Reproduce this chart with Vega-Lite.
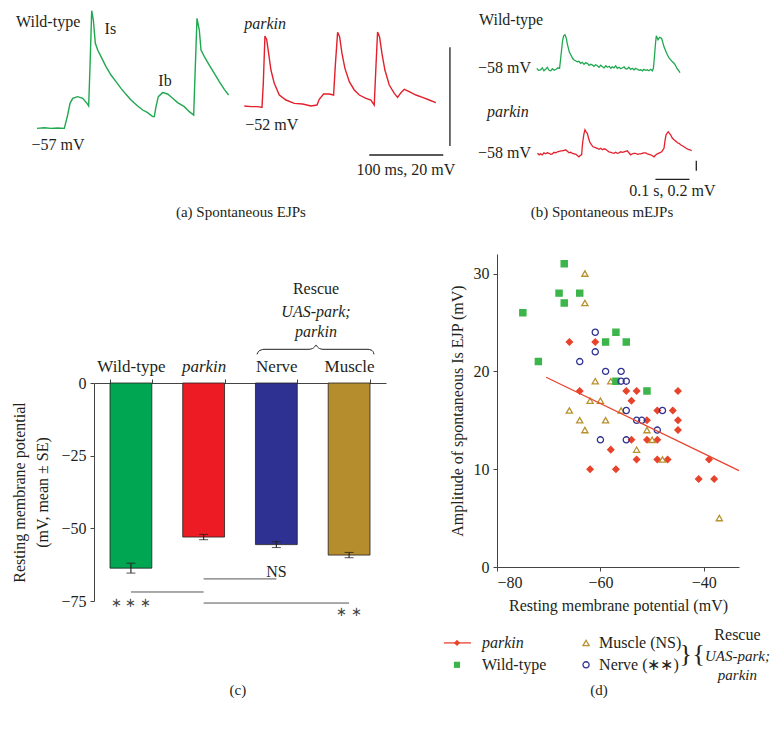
{
  "$schema": "https://vega.github.io/schema/vega-lite/v6.json",
  "background": "white",
  "padding": {"left": 11, "top": 0, "right": 0, "bottom": 0},
  "bounds": "full",
  "spacing": -21,
  "resolve": {"scale": {"color": "independent", "shape": "independent", "fill": "independent", "stroke": "independent"}},
  "config": {
    "font": "Liberation Serif",
    "view": {"stroke": null},
    "text": {"font": "Liberation Serif", "fontSize": 16, "fill": "#231f20"},
    "axis": {"labelFont": "Liberation Serif", "titleFont": "Liberation Serif", "labelColor": "#231f20", "titleColor": "#231f20", "labelFontSize": 16, "titleFontSize": 16, "titleFontWeight": "normal", "domainColor": "#444444", "tickColor": "#444444", "grid": false}
  },
  "datasets": {
    "ejp": [
      {"genotype": "Wild-type", "t": 0, "mV": -57.0},
      {"genotype": "Wild-type", "t": 9.9, "mV": -56.87},
      {"genotype": "Wild-type", "t": 18.9, "mV": -57.0},
      {"genotype": "Wild-type", "t": 27.9, "mV": -56.93},
      {"genotype": "Wild-type", "t": 36.9, "mV": -57.0},
      {"genotype": "Wild-type", "t": 41.4, "mV": -54.31},
      {"genotype": "Wild-type", "t": 44.6, "mV": -51.95},
      {"genotype": "Wild-type", "t": 48.2, "mV": -50.94},
      {"genotype": "Wild-type", "t": 54.9, "mV": -50.6},
      {"genotype": "Wild-type", "t": 61.7, "mV": -50.94},
      {"genotype": "Wild-type", "t": 67.6, "mV": -51.95},
      {"genotype": "Wild-type", "t": 69.8, "mV": -52.49},
      {"genotype": "Wild-type", "t": 71.6, "mV": -44.54},
      {"genotype": "Wild-type", "t": 73.9, "mV": -33.23},
      {"genotype": "Wild-type", "t": 76.1, "mV": -35.11},
      {"genotype": "Wild-type", "t": 78.8, "mV": -39.83},
      {"genotype": "Wild-type", "t": 82.0, "mV": -41.18},
      {"genotype": "Wild-type", "t": 86.5, "mV": -42.52},
      {"genotype": "Wild-type", "t": 93.2, "mV": -44.54},
      {"genotype": "Wild-type", "t": 100.0, "mV": -46.23},
      {"genotype": "Wild-type", "t": 106.7, "mV": -47.57},
      {"genotype": "Wild-type", "t": 113.5, "mV": -48.92},
      {"genotype": "Wild-type", "t": 120.2, "mV": -50.13},
      {"genotype": "Wild-type", "t": 127.0, "mV": -51.28},
      {"genotype": "Wild-type", "t": 136.0, "mV": -52.49},
      {"genotype": "Wild-type", "t": 142.8, "mV": -53.3},
      {"genotype": "Wild-type", "t": 149.5, "mV": -53.84},
      {"genotype": "Wild-type", "t": 156.3, "mV": -54.64},
      {"genotype": "Wild-type", "t": 158.5, "mV": -54.64},
      {"genotype": "Wild-type", "t": 160.8, "mV": -52.62},
      {"genotype": "Wild-type", "t": 163.9, "mV": -50.6},
      {"genotype": "Wild-type", "t": 169.8, "mV": -49.79},
      {"genotype": "Wild-type", "t": 176.5, "mV": -50.06},
      {"genotype": "Wild-type", "t": 183.3, "mV": -50.94},
      {"genotype": "Wild-type", "t": 190.0, "mV": -51.81},
      {"genotype": "Wild-type", "t": 199.0, "mV": -52.62},
      {"genotype": "Wild-type", "t": 205.8, "mV": -53.63},
      {"genotype": "Wild-type", "t": 211.7, "mV": -54.31},
      {"genotype": "Wild-type", "t": 213.9, "mV": -44.54},
      {"genotype": "Wild-type", "t": 216.2, "mV": -34.78},
      {"genotype": "Wild-type", "t": 219.3, "mV": -37.13},
      {"genotype": "Wild-type", "t": 221.6, "mV": -41.18},
      {"genotype": "Wild-type", "t": 226.1, "mV": -42.52},
      {"genotype": "Wild-type", "t": 232.8, "mV": -44.21},
      {"genotype": "Wild-type", "t": 239.6, "mV": -45.89},
      {"genotype": "Wild-type", "t": 246.3, "mV": -47.57},
      {"genotype": "Wild-type", "t": 253.1, "mV": -49.12},
      {"genotype": "Wild-type", "t": 258.9, "mV": -50.27},
      {"genotype": "parkin", "t": 280.1, "mV": -52.49},
      {"genotype": "parkin", "t": 289.1, "mV": -52.62},
      {"genotype": "parkin", "t": 298.1, "mV": -52.62},
      {"genotype": "parkin", "t": 304.0, "mV": -52.76},
      {"genotype": "parkin", "t": 305.8, "mV": -47.91},
      {"genotype": "parkin", "t": 308.0, "mV": -38.35},
      {"genotype": "parkin", "t": 310.3, "mV": -39.03},
      {"genotype": "parkin", "t": 313.0, "mV": -41.86},
      {"genotype": "parkin", "t": 316.1, "mV": -45.22},
      {"genotype": "parkin", "t": 320.6, "mV": -47.91},
      {"genotype": "parkin", "t": 327.4, "mV": -50.27},
      {"genotype": "parkin", "t": 336.4, "mV": -51.28},
      {"genotype": "parkin", "t": 347.7, "mV": -51.95},
      {"genotype": "parkin", "t": 358.9, "mV": -52.09},
      {"genotype": "parkin", "t": 370.2, "mV": -52.49},
      {"genotype": "parkin", "t": 378.3, "mV": -52.29},
      {"genotype": "parkin", "t": 381.4, "mV": -51.14},
      {"genotype": "parkin", "t": 387.3, "mV": -50.06},
      {"genotype": "parkin", "t": 394.9, "mV": -50.06},
      {"genotype": "parkin", "t": 400.8, "mV": -50.27},
      {"genotype": "parkin", "t": 403.0, "mV": -44.54},
      {"genotype": "parkin", "t": 406.2, "mV": -37.61},
      {"genotype": "parkin", "t": 408.9, "mV": -38.49},
      {"genotype": "parkin", "t": 412.1, "mV": -41.86},
      {"genotype": "parkin", "t": 416.1, "mV": -44.88},
      {"genotype": "parkin", "t": 422.0, "mV": -47.57},
      {"genotype": "parkin", "t": 428.7, "mV": -49.25},
      {"genotype": "parkin", "t": 435.5, "mV": -50.27},
      {"genotype": "parkin", "t": 444.5, "mV": -50.94},
      {"genotype": "parkin", "t": 451.2, "mV": -51.28},
      {"genotype": "parkin", "t": 455.7, "mV": -52.29},
      {"genotype": "parkin", "t": 458.0, "mV": -44.54},
      {"genotype": "parkin", "t": 460.2, "mV": -37.54},
      {"genotype": "parkin", "t": 462.9, "mV": -38.55},
      {"genotype": "parkin", "t": 466.1, "mV": -41.86},
      {"genotype": "parkin", "t": 470.1, "mV": -45.22},
      {"genotype": "parkin", "t": 476.0, "mV": -48.25},
      {"genotype": "parkin", "t": 482.8, "mV": -49.93},
      {"genotype": "parkin", "t": 487.3, "mV": -50.74},
      {"genotype": "parkin", "t": 491.8, "mV": -49.79},
      {"genotype": "parkin", "t": 496.3, "mV": -49.12},
      {"genotype": "parkin", "t": 503.0, "mV": -49.59},
      {"genotype": "parkin", "t": 512.0, "mV": -50.27},
      {"genotype": "parkin", "t": 521.0, "mV": -50.74},
      {"genotype": "parkin", "t": 530.0, "mV": -51.28},
      {"genotype": "parkin", "t": 539.0, "mV": -51.81}
    ],
    "mejp_wt": [
      {"t": 0.117, "mV": -57.98}, {"t": 0.122, "mV": -58.02}, {"t": 0.128, "mV": -58.01}, {"t": 0.133, "mV": -57.97},
      {"t": 0.138, "mV": -58.03}, {"t": 0.143, "mV": -58.0}, {"t": 0.148, "mV": -57.96}, {"t": 0.153, "mV": -58.02},
      {"t": 0.158, "mV": -58.03}, {"t": 0.163, "mV": -57.99}, {"t": 0.168, "mV": -58.02}, {"t": 0.174, "mV": -58.0},
      {"t": 0.179, "mV": -57.97}, {"t": 0.184, "mV": -57.98}, {"t": 0.187, "mV": -57.8}, {"t": 0.19, "mV": -57.61},
      {"t": 0.193, "mV": -57.42}, {"t": 0.196, "mV": -57.33}, {"t": 0.2, "mV": -57.31}, {"t": 0.204, "mV": -57.38},
      {"t": 0.207, "mV": -57.5}, {"t": 0.209, "mV": -57.55}, {"t": 0.213, "mV": -57.66}, {"t": 0.217, "mV": -57.71},
      {"t": 0.222, "mV": -57.78}, {"t": 0.226, "mV": -57.81}, {"t": 0.231, "mV": -57.83}, {"t": 0.236, "mV": -57.85},
      {"t": 0.241, "mV": -57.84}, {"t": 0.246, "mV": -57.88}, {"t": 0.251, "mV": -57.86}, {"t": 0.256, "mV": -57.9},
      {"t": 0.261, "mV": -57.87}, {"t": 0.266, "mV": -57.88}, {"t": 0.271, "mV": -57.92}, {"t": 0.276, "mV": -57.9},
      {"t": 0.28, "mV": -57.91}, {"t": 0.285, "mV": -57.94}, {"t": 0.29, "mV": -57.91}, {"t": 0.295, "mV": -57.93},
      {"t": 0.3, "mV": -57.96}, {"t": 0.305, "mV": -57.92}, {"t": 0.31, "mV": -57.95}, {"t": 0.315, "mV": -57.97},
      {"t": 0.32, "mV": -57.93}, {"t": 0.325, "mV": -57.96}, {"t": 0.33, "mV": -57.94}, {"t": 0.335, "mV": -57.98},
      {"t": 0.339, "mV": -57.95}, {"t": 0.344, "mV": -57.97}, {"t": 0.349, "mV": -57.93}, {"t": 0.354, "mV": -57.98},
      {"t": 0.359, "mV": -57.96}, {"t": 0.364, "mV": -57.99}, {"t": 0.369, "mV": -57.97}, {"t": 0.374, "mV": -57.95},
      {"t": 0.378, "mV": -57.99}, {"t": 0.383, "mV": -57.99}, {"t": 0.388, "mV": -57.96}, {"t": 0.393, "mV": -58.0},
      {"t": 0.398, "mV": -57.98}, {"t": 0.403, "mV": -58.01}, {"t": 0.408, "mV": -57.98}, {"t": 0.413, "mV": -58.0},
      {"t": 0.418, "mV": -58.02}, {"t": 0.423, "mV": -58.01}, {"t": 0.428, "mV": -58.03}, {"t": 0.432, "mV": -58.0},
      {"t": 0.437, "mV": -58.02}, {"t": 0.442, "mV": -58.01}, {"t": 0.447, "mV": -58.03}, {"t": 0.452, "mV": -58.0},
      {"t": 0.457, "mV": -58.03}, {"t": 0.46, "mV": -57.98}, {"t": 0.4625, "mV": -57.8}, {"t": 0.4647, "mV": -57.61},
      {"t": 0.4667, "mV": -57.45}, {"t": 0.4686, "mV": -57.33}, {"t": 0.471, "mV": -57.37}, {"t": 0.4735, "mV": -57.41},
      {"t": 0.476, "mV": -57.38}, {"t": 0.4784, "mV": -57.36}, {"t": 0.481, "mV": -57.37}, {"t": 0.4843, "mV": -57.38},
      {"t": 0.488, "mV": -57.47}, {"t": 0.4912, "mV": -57.55}, {"t": 0.496, "mV": -57.63}, {"t": 0.501, "mV": -57.71},
      {"t": 0.506, "mV": -57.77}, {"t": 0.511, "mV": -57.81}, {"t": 0.516, "mV": -57.85}, {"t": 0.521, "mV": -57.88},
      {"t": 0.524, "mV": -57.91}, {"t": 0.527, "mV": -57.95}, {"t": 0.53, "mV": -57.99}, {"t": 0.533, "mV": -58.01},
      {"t": 0.536, "mV": -58.04}, {"t": 0.538, "mV": -58.07}
    ],
    "mejp_pk": [
      {"t": 0.119, "mV": -58.0}, {"t": 0.124, "mV": -58.03}, {"t": 0.128, "mV": -58.01}, {"t": 0.133, "mV": -58.03},
      {"t": 0.138, "mV": -57.99}, {"t": 0.143, "mV": -58.01}, {"t": 0.148, "mV": -57.99}, {"t": 0.153, "mV": -58.0},
      {"t": 0.158, "mV": -58.02}, {"t": 0.163, "mV": -58.01}, {"t": 0.168, "mV": -57.98}, {"t": 0.173, "mV": -57.99},
      {"t": 0.178, "mV": -57.97}, {"t": 0.183, "mV": -57.96}, {"t": 0.188, "mV": -57.95}, {"t": 0.192, "mV": -57.95},
      {"t": 0.197, "mV": -57.94}, {"t": 0.202, "mV": -57.93}, {"t": 0.207, "mV": -57.96}, {"t": 0.212, "mV": -57.99},
      {"t": 0.217, "mV": -57.98}, {"t": 0.222, "mV": -58.0}, {"t": 0.227, "mV": -58.01}, {"t": 0.232, "mV": -58.02},
      {"t": 0.237, "mV": -58.05}, {"t": 0.241, "mV": -58.07}, {"t": 0.245, "mV": -58.04}, {"t": 0.249, "mV": -58.03},
      {"t": 0.251, "mV": -57.85}, {"t": 0.253, "mV": -57.73}, {"t": 0.256, "mV": -57.6}, {"t": 0.2588, "mV": -57.53},
      {"t": 0.262, "mV": -57.57}, {"t": 0.2657, "mV": -57.6}, {"t": 0.269, "mV": -57.69}, {"t": 0.2725, "mV": -57.77},
      {"t": 0.277, "mV": -57.82}, {"t": 0.2824, "mV": -57.87}, {"t": 0.288, "mV": -57.88}, {"t": 0.2951, "mV": -57.9},
      {"t": 0.3, "mV": -57.92}, {"t": 0.305, "mV": -57.9}, {"t": 0.3098, "mV": -57.93}, {"t": 0.315, "mV": -57.91},
      {"t": 0.3196, "mV": -57.92}, {"t": 0.325, "mV": -57.95}, {"t": 0.3294, "mV": -57.97}, {"t": 0.335, "mV": -57.98},
      {"t": 0.339, "mV": -57.99}, {"t": 0.3441, "mV": -58.0}, {"t": 0.349, "mV": -57.98}, {"t": 0.354, "mV": -58.0},
      {"t": 0.3588, "mV": -57.99}, {"t": 0.364, "mV": -57.97}, {"t": 0.369, "mV": -57.98}, {"t": 0.3735, "mV": -57.97},
      {"t": 0.378, "mV": -57.96}, {"t": 0.3833, "mV": -57.95}, {"t": 0.388, "mV": -57.99}, {"t": 0.3931, "mV": -58.03},
      {"t": 0.398, "mV": -58.01}, {"t": 0.403, "mV": -58.0}, {"t": 0.4078, "mV": -58.0}, {"t": 0.413, "mV": -58.02},
      {"t": 0.418, "mV": -58.01}, {"t": 0.4225, "mV": -58.01}, {"t": 0.427, "mV": -58.0}, {"t": 0.432, "mV": -57.99},
      {"t": 0.4373, "mV": -57.99}, {"t": 0.442, "mV": -58.01}, {"t": 0.447, "mV": -58.02}, {"t": 0.452, "mV": -58.03},
      {"t": 0.457, "mV": -58.05}, {"t": 0.4618, "mV": -58.07}, {"t": 0.466, "mV": -58.04}, {"t": 0.4716, "mV": -58.01},
      {"t": 0.478, "mV": -57.99}, {"t": 0.4843, "mV": -57.97}, {"t": 0.488, "mV": -57.93}, {"t": 0.4912, "mV": -57.9},
      {"t": 0.494, "mV": -57.75}, {"t": 0.497, "mV": -57.64}, {"t": 0.4998, "mV": -57.6}, {"t": 0.5039, "mV": -57.57},
      {"t": 0.507, "mV": -57.6}, {"t": 0.5108, "mV": -57.63}, {"t": 0.515, "mV": -57.69}, {"t": 0.5206, "mV": -57.73},
      {"t": 0.526, "mV": -57.76}, {"t": 0.5306, "mV": -57.79}, {"t": 0.5353, "mV": -57.8}, {"t": 0.54, "mV": -57.83},
      {"t": 0.545, "mV": -57.85}, {"t": 0.55, "mV": -57.87}, {"t": 0.556, "mV": -57.9}, {"t": 0.5627, "mV": -57.92},
      {"t": 0.568, "mV": -57.93}, {"t": 0.5725, "mV": -57.95}
    ],
    "bars": [
      {"group": "Wild-type", "mean": -63.7, "lo": -65.4, "hi": -62.0},
      {"group": "parkin", "mean": -53.0, "lo": -53.9, "hi": -52.1},
      {"group": "Nerve", "mean": -55.6, "lo": -56.6, "hi": -54.6},
      {"group": "Muscle", "mean": -59.2, "lo": -60.1, "hi": -58.3}
    ],
    "sig": [
      {"from": "Wild-type", "to": "parkin", "v": -71.9},
      {"from": "parkin", "to": "Nerve", "v": -67.4},
      {"from": "parkin", "to": "Muscle", "v": -75.7}
    ],
    "brace": [
      {"u": 2.233, "v": 9.87}, {"u": 2.253, "v": 10.84}, {"u": 2.288, "v": 11.35}, {"u": 2.329, "v": 11.59},
      {"u": 2.945, "v": 11.59}, {"u": 2.993, "v": 11.87}, {"u": 3.021, "v": 12.38}, {"u": 3.041, "v": 13.07},
      {"u": 3.062, "v": 12.38}, {"u": 3.089, "v": 11.87}, {"u": 3.137, "v": 11.59}, {"u": 3.753, "v": 11.59},
      {"u": 3.795, "v": 11.35}, {"u": 3.822, "v": 10.84}, {"u": 3.836, "v": 9.87}
    ],
    "scatter": [
      {"group": "parkin", "rmp": -66, "amp": 23}, {"group": "parkin", "rmp": -61, "amp": 23},
      {"group": "parkin", "rmp": -64, "amp": 18}, {"group": "parkin", "rmp": -55, "amp": 18},
      {"group": "parkin", "rmp": -53, "amp": 18}, {"group": "parkin", "rmp": -45, "amp": 18},
      {"group": "parkin", "rmp": -54, "amp": 17}, {"group": "parkin", "rmp": -49, "amp": 16},
      {"group": "parkin", "rmp": -46, "amp": 16}, {"group": "parkin", "rmp": -51, "amp": 15},
      {"group": "parkin", "rmp": -45, "amp": 15}, {"group": "parkin", "rmp": -45, "amp": 14},
      {"group": "parkin", "rmp": -54, "amp": 13}, {"group": "parkin", "rmp": -51, "amp": 13},
      {"group": "parkin", "rmp": -49, "amp": 13}, {"group": "parkin", "rmp": -58, "amp": 12},
      {"group": "parkin", "rmp": -53, "amp": 11}, {"group": "parkin", "rmp": -49, "amp": 11},
      {"group": "parkin", "rmp": -47, "amp": 11}, {"group": "parkin", "rmp": -39, "amp": 11},
      {"group": "parkin", "rmp": -62, "amp": 10}, {"group": "parkin", "rmp": -57, "amp": 10},
      {"group": "parkin", "rmp": -41, "amp": 9}, {"group": "parkin", "rmp": -38, "amp": 9},
      {"group": "Muscle (NS)", "rmp": -63, "amp": 30}, {"group": "Muscle (NS)", "rmp": -63, "amp": 27},
      {"group": "Muscle (NS)", "rmp": -61, "amp": 19}, {"group": "Muscle (NS)", "rmp": -58, "amp": 19},
      {"group": "Muscle (NS)", "rmp": -62, "amp": 17}, {"group": "Muscle (NS)", "rmp": -60, "amp": 17},
      {"group": "Muscle (NS)", "rmp": -66, "amp": 16}, {"group": "Muscle (NS)", "rmp": -56, "amp": 16},
      {"group": "Muscle (NS)", "rmp": -64, "amp": 15}, {"group": "Muscle (NS)", "rmp": -59, "amp": 15},
      {"group": "Muscle (NS)", "rmp": -63, "amp": 14}, {"group": "Muscle (NS)", "rmp": -51, "amp": 14},
      {"group": "Muscle (NS)", "rmp": -50, "amp": 13}, {"group": "Muscle (NS)", "rmp": -53, "amp": 12},
      {"group": "Muscle (NS)", "rmp": -48, "amp": 11}, {"group": "Muscle (NS)", "rmp": -37, "amp": 5},
      {"group": "Wild-type", "rmp": -75, "amp": 26}, {"group": "Wild-type", "rmp": -72, "amp": 21},
      {"group": "Wild-type", "rmp": -67, "amp": 31}, {"group": "Wild-type", "rmp": -68, "amp": 28},
      {"group": "Wild-type", "rmp": -67, "amp": 27}, {"group": "Wild-type", "rmp": -64, "amp": 28},
      {"group": "Wild-type", "rmp": -59, "amp": 23}, {"group": "Wild-type", "rmp": -57, "amp": 24},
      {"group": "Wild-type", "rmp": -55, "amp": 23}, {"group": "Wild-type", "rmp": -57, "amp": 19},
      {"group": "Wild-type", "rmp": -51, "amp": 18},
      {"group": "Nerve (∗∗)", "rmp": -61, "amp": 24}, {"group": "Nerve (∗∗)", "rmp": -61, "amp": 22},
      {"group": "Nerve (∗∗)", "rmp": -64, "amp": 21}, {"group": "Nerve (∗∗)", "rmp": -59, "amp": 20},
      {"group": "Nerve (∗∗)", "rmp": -56, "amp": 20}, {"group": "Nerve (∗∗)", "rmp": -56, "amp": 19},
      {"group": "Nerve (∗∗)", "rmp": -55, "amp": 19}, {"group": "Nerve (∗∗)", "rmp": -55, "amp": 16},
      {"group": "Nerve (∗∗)", "rmp": -48, "amp": 16}, {"group": "Nerve (∗∗)", "rmp": -53, "amp": 15},
      {"group": "Nerve (∗∗)", "rmp": -52, "amp": 15}, {"group": "Nerve (∗∗)", "rmp": -49, "amp": 14},
      {"group": "Nerve (∗∗)", "rmp": -60, "amp": 13}, {"group": "Nerve (∗∗)", "rmp": -55, "amp": 13}
    ],
    "fit": [{"rmp": -70.5, "amp": 19.4}, {"rmp": -33.2, "amp": 9.85}]
  },
  "hconcat": [
    {
      "bounds": "flush",
      "spacing": 223,
      "resolve": {"scale": {"color": "independent"}},
      "vconcat": [
        {
          "width": 370, "height": 160,
          "layer": [
            {
              "data": {"name": "ejp"},
              "mark": {"type": "line", "strokeWidth": 1.4},
              "encoding": {
                "x": {"field": "t", "type": "quantitative", "scale": {"domain": [77, 577], "nice": false, "zero": false}, "axis": null},
                "y": {"field": "mV", "type": "quantitative", "scale": {"domain": [-63.4, -31.07], "nice": false, "zero": false}, "axis": null},
                "color": {"field": "genotype", "type": "nominal", "scale": {"domain": ["Wild-type", "parkin"], "range": ["#1fa84f", "#e3202b"]}, "legend": null}
              }
            },
            {
              "data": {"values": [{"t": 449, "t2": 549, "mV": -62.39, "mV2": -62.39}, {"t": 558, "t2": 558, "mV": -40.64, "mV2": -60.57}]},
              "mark": {"type": "rule", "color": "#231f20", "strokeWidth": 1.3},
              "encoding": {"x": {"field": "t", "type": "quantitative"}, "x2": {"field": "t2"}, "y": {"field": "mV", "type": "quantitative"}, "y2": {"field": "mV2"}}
            },
            {
              "data": {"values": [{"label": "Wild-type", "t": -28.4, "mV": -35.59}]},
              "mark": {"type": "text", "align": "left", "baseline": "middle"},
              "encoding": {"x": {"field": "t", "type": "quantitative"}, "y": {"field": "mV", "type": "quantitative"}, "text": {"field": "label"}}
            },
            {
              "data": {"values": [{"label": "parkin", "t": 280.1, "mV": -35.92}]},
              "mark": {"type": "text", "align": "left", "baseline": "middle", "fontStyle": "italic"},
              "encoding": {"x": {"field": "t", "type": "quantitative"}, "y": {"field": "mV", "type": "quantitative"}, "text": {"field": "label"}}
            },
            {
              "data": {"values": [
                {"label": "Is", "t": 99.1, "mV": -37.0},
                {"label": "Ib", "t": 172.9, "mV": -47.44},
                {"label": "−57 mV", "t": 28.4, "mV": -60.37},
                {"label": "−52 mV", "t": 317.2, "mV": -56.33},
                {"label": "100 ms, 20 mV", "t": 498.5, "mV": -65.42}
              ]},
              "mark": {"type": "text", "align": "center", "baseline": "middle"},
              "encoding": {"x": {"field": "t", "type": "quantitative"}, "y": {"field": "mV", "type": "quantitative"}, "text": {"field": "label"}}
            },
            {
              "data": {"values": [{"label": "(a) Spontaneous EJPs", "t": 275.6, "mV": -73.9}]},
              "mark": {"type": "text", "align": "center", "baseline": "middle", "fontSize": 15},
              "encoding": {"x": {"field": "t", "type": "quantitative"}, "y": {"field": "mV", "type": "quantitative"}, "text": {"field": "label"}}
            }
          ]
        },
        {
          "width": 292, "height": 218,
          "layer": [
            {
              "layer": [
                {
                  "data": {"name": "bars"},
                  "mark": {"type": "bar", "stroke": "#231f20", "strokeWidth": 0.8},
                  "encoding": {
                    "x": {"field": "group", "type": "nominal", "sort": null,
                      "scale": {"domain": ["Wild-type", "parkin", "Nerve", "Muscle"], "paddingInner": 0.425, "paddingOuter": 0.22},
                      "axis": {"orient": "top", "title": null, "labelAngle": 0, "tickBand": "extent", "tickSize": 4, "labelPadding": 4, "labelFontSize": 17,
                        "labelFontStyle": {"condition": {"test": "datum.value === 'parkin'", "value": "italic"}, "value": "normal"}}},
                    "y": {"field": "mean", "type": "quantitative", "scale": {"domain": [-75, 0], "nice": false, "zero": false},
                      "axis": {"values": [0, -25, -50, -75], "title": ["Resting membrane potential", "(mV, mean ± SE)"], "tickSize": 4, "labelPadding": 4, "titlePadding": 10, "titleLineHeight": 23}},
                    "color": {"field": "group", "type": "nominal", "scale": {"domain": ["Wild-type", "parkin", "Nerve", "Muscle"], "range": ["#00a651", "#ed1c24", "#2e3192", "#b68d2d"]}, "legend": null}
                  }
                },
                {
                  "data": {"name": "bars"},
                  "mark": {"type": "rule", "color": "#231f20", "strokeWidth": 1.1},
                  "encoding": {"x": {"field": "group", "type": "nominal"}, "y": {"field": "lo", "type": "quantitative"}, "y2": {"field": "hi"}}
                },
                {
                  "data": {"name": "bars"},
                  "mark": {"type": "tick", "color": "#231f20", "size": 9, "thickness": 1.1, "orient": "horizontal"},
                  "encoding": {"x": {"field": "group", "type": "nominal"}, "y": {"field": "lo", "type": "quantitative"}}
                },
                {
                  "data": {"name": "bars"},
                  "mark": {"type": "tick", "color": "#231f20", "size": 9, "thickness": 1.1, "orient": "horizontal"},
                  "encoding": {"x": {"field": "group", "type": "nominal"}, "y": {"field": "hi", "type": "quantitative"}}
                },
                {
                  "data": {"name": "sig"},
                  "mark": {"type": "rule", "color": "#555555", "strokeWidth": 1},
                  "encoding": {"x": {"field": "from", "type": "nominal"}, "x2": {"field": "to"}, "y": {"field": "v", "type": "quantitative"}}
                },
                {
                  "data": {"values": [
                    {"group": "Wild-type", "v": -75.6, "label": "∗ ∗ ∗"},
                    {"group": "Muscle", "v": -78.9, "label": "∗ ∗"}
                  ]},
                  "mark": {"type": "text", "align": "center", "baseline": "middle", "fontSize": 13, "fill": "#444444"},
                  "encoding": {"x": {"field": "group", "type": "nominal"}, "y": {"field": "v", "type": "quantitative"}, "text": {"field": "label"}}
                },
                {
                  "data": {"values": [{"group": "Nerve", "v": -64.9, "label": "NS"}]},
                  "mark": {"type": "text", "align": "center", "baseline": "middle", "fontSize": 16},
                  "encoding": {"x": {"field": "group", "type": "nominal"}, "y": {"field": "v", "type": "quantitative"}, "text": {"field": "label"}}
                }
              ]
            },
            {
              "layer": [
                {
                  "data": {"name": "brace"},
                  "mark": {"type": "line", "color": "#231f20", "strokeWidth": 1, "interpolate": "monotone"},
                  "encoding": {
                    "x": {"field": "u", "type": "quantitative", "scale": {"domain": [0, 4], "nice": false, "zero": false}, "axis": null},
                    "y": {"field": "v", "type": "quantitative"}
                  }
                },
                {
                  "data": {"values": [{"label": "Rescue", "u": 3.041, "v": 32.3}]},
                  "mark": {"type": "text", "align": "center", "baseline": "middle"},
                  "encoding": {"x": {"field": "u", "type": "quantitative"}, "y": {"field": "v", "type": "quantitative"}, "text": {"field": "label"}}
                },
                {
                  "data": {"values": [{"label": "UAS-park;", "u": 3.041, "v": 24.4}, {"label": "parkin", "u": 3.041, "v": 17.5}]},
                  "mark": {"type": "text", "align": "center", "baseline": "middle", "fontStyle": "italic"},
                  "encoding": {"x": {"field": "u", "type": "quantitative"}, "y": {"field": "v", "type": "quantitative"}, "text": {"field": "label"}}
                },
                {
                  "data": {"values": [{"label": "(c)", "u": 1.97, "v": -105.6}]},
                  "mark": {"type": "text", "align": "center", "baseline": "middle", "fontSize": 15},
                  "encoding": {"x": {"field": "u", "type": "quantitative"}, "y": {"field": "v", "type": "quantitative"}, "text": {"field": "label"}}
                }
              ]
            }
          ],
          "resolve": {"scale": {"x": "independent"}}
        }
      ]
    },
    {
      "bounds": "flush",
      "spacing": 94,
      "resolve": {"scale": {"color": "independent", "shape": "independent"}},
      "vconcat": [
        {
          "width": 242, "height": 160,
          "layer": [
            {
              "layer": [
                {
                  "data": {"name": "mejp_wt"},
                  "mark": {"type": "line", "color": "#1fa84f", "strokeWidth": 1.3},
                  "encoding": {
                    "x": {"field": "t", "type": "quantitative", "scale": {"domain": [0, 0.7118], "nice": false, "zero": false}, "axis": null},
                    "y": {"field": "mV", "type": "quantitative", "scale": {"domain": [-59.814, -56.614], "nice": false, "zero": false}, "axis": null}
                  }
                },
                {
                  "data": {"values": [{"label": "Wild-type", "t": -0.053, "mV": -57.014}]},
                  "mark": {"type": "text", "align": "left", "baseline": "middle"},
                  "encoding": {"x": {"field": "t", "type": "quantitative"}, "y": {"field": "mV", "type": "quantitative"}, "text": {"field": "label"}}
                },
                {
                  "data": {"values": [{"label": "−58 mV", "t": 0.1, "mV": -57.974}]},
                  "mark": {"type": "text", "align": "right", "baseline": "middle"},
                  "encoding": {"x": {"field": "t", "type": "quantitative"}, "y": {"field": "mV", "type": "quantitative"}, "text": {"field": "label"}}
                }
              ]
            },
            {
              "layer": [
                {
                  "data": {"name": "mejp_pk"},
                  "mark": {"type": "line", "color": "#e3202b", "strokeWidth": 1.3},
                  "encoding": {
                    "x": {"field": "t", "type": "quantitative"},
                    "y": {"field": "mV", "type": "quantitative", "scale": {"domain": [-58.134, -54.934], "nice": false, "zero": false}, "axis": null}
                  }
                },
                {
                  "data": {"values": [{"t": 0.466, "t2": 0.566, "mV": -58.52, "mV2": -58.52}, {"t": 0.5862, "t2": 0.5862, "mV": -58.148, "mV2": -58.348}]},
                  "mark": {"type": "rule", "color": "#231f20", "strokeWidth": 1.3},
                  "encoding": {"x": {"field": "t", "type": "quantitative"}, "x2": {"field": "t2"}, "y": {"field": "mV", "type": "quantitative"}, "y2": {"field": "mV2"}}
                },
                {
                  "data": {"values": [{"label": "parkin", "t": -0.0294, "mV": -57.174}]},
                  "mark": {"type": "text", "align": "left", "baseline": "middle", "fontStyle": "italic"},
                  "encoding": {"x": {"field": "t", "type": "quantitative"}, "y": {"field": "mV", "type": "quantitative"}, "text": {"field": "label"}}
                },
                {
                  "data": {"values": [{"label": "−58 mV", "t": 0.1, "mV": -57.988}]},
                  "mark": {"type": "text", "align": "right", "baseline": "middle"},
                  "encoding": {"x": {"field": "t", "type": "quantitative"}, "y": {"field": "mV", "type": "quantitative"}, "text": {"field": "label"}}
                },
                {
                  "data": {"values": [{"label": "0.1 s, 0.2 mV", "t": 0.5157, "mV": -58.748}]},
                  "mark": {"type": "text", "align": "center", "baseline": "middle"},
                  "encoding": {"x": {"field": "t", "type": "quantitative"}, "y": {"field": "mV", "type": "quantitative"}, "text": {"field": "label"}}
                },
                {
                  "data": {"values": [{"label": "(b) Spontaneous mEJPs", "t": 0.3088, "mV": -59.174}]},
                  "mark": {"type": "text", "align": "center", "baseline": "middle", "fontSize": 15},
                  "encoding": {"x": {"field": "t", "type": "quantitative"}, "y": {"field": "mV", "type": "quantitative"}, "text": {"field": "label"}}
                }
              ]
            }
          ],
          "resolve": {"scale": {"y": "independent"}}
        },
        {
          "width": 242, "height": 313,
          "layer": [
            {
              "data": {"name": "scatter"},
              "mark": {"type": "point", "strokeWidth": 1.3, "opacity": 1, "size": 38},
              "encoding": {
                "x": {"field": "rmp", "type": "quantitative", "scale": {"domain": [-80, -33.2], "nice": false, "zero": false},
                  "axis": {"values": [-80, -60, -40], "title": "Resting membrane potential (mV)", "tickSize": 4, "labelPadding": 3, "titlePadding": 7}},
                "y": {"field": "amp", "type": "quantitative", "scale": {"domain": [0, 32], "nice": false, "zero": false},
                  "axis": {"values": [0, 10, 20, 30], "title": "Amplitude of spontaneous Is EJP (mV)", "tickSize": 4, "labelPadding": 4, "titlePadding": 8}},
                "shape": {"field": "group", "type": "nominal",
                  "scale": {"domain": ["parkin", "Muscle (NS)", "Wild-type", "Nerve (∗∗)"], "range": ["diamond", "triangle-up", "square", "circle"]}, "legend": null},
                "fill": {"field": "group", "type": "nominal",
                  "scale": {"domain": ["parkin", "Muscle (NS)", "Wild-type", "Nerve (∗∗)"], "range": ["#e8432b", "transparent", "#3cb54a", "transparent"]}, "legend": null},
                "stroke": {"field": "group", "type": "nominal",
                  "scale": {"domain": ["parkin", "Muscle (NS)", "Wild-type", "Nerve (∗∗)"], "range": ["#e8432b", "#b8912f", "#3cb54a", "#2e3192"]}, "legend": null}
              }
            },
            {
              "data": {"name": "fit"},
              "mark": {"type": "line", "color": "#e8432b", "strokeWidth": 1.3},
              "encoding": {"x": {"field": "rmp", "type": "quantitative"}, "y": {"field": "amp", "type": "quantitative"}}
            },
            {
              "data": {"values": [{}]},
              "mark": {"type": "rule", "color": "#e8432b", "strokeWidth": 1.3},
              "encoding": {"x": {"datum": -90.26}, "x2": {"datum": -85.03}, "y": {"datum": -7.76}}
            },
            {
              "data": {"values": [{}]},
              "mark": {"type": "point", "shape": "diamond", "filled": true, "color": "#e8432b", "opacity": 1, "size": 38},
              "encoding": {"x": {"datum": -87.74}, "y": {"datum": -7.76}}
            },
            {
              "data": {"values": [{}]},
              "mark": {"type": "point", "shape": "square", "filled": true, "color": "#3cb54a", "opacity": 1, "size": 38},
              "encoding": {"x": {"datum": -87.74}, "y": {"datum": -10.0}}
            },
            {
              "data": {"values": [{}]},
              "mark": {"type": "point", "shape": "triangle-up", "filled": false, "color": "#b8912f", "strokeWidth": 1.3, "opacity": 1, "size": 38},
              "encoding": {"x": {"datum": -62.78}, "y": {"datum": -7.76}}
            },
            {
              "data": {"values": [{}]},
              "mark": {"type": "point", "shape": "circle", "filled": false, "color": "#2e3192", "strokeWidth": 1.3, "opacity": 1, "size": 38},
              "encoding": {"x": {"datum": -62.78}, "y": {"datum": -10.0}}
            },
            {
              "data": {"values": [{"label": "parkin", "rmp": -82.9, "amp": -7.76}]},
              "mark": {"type": "text", "align": "left", "baseline": "middle", "fontStyle": "italic"},
              "encoding": {"x": {"field": "rmp", "type": "quantitative"}, "y": {"field": "amp", "type": "quantitative"}, "text": {"field": "label"}}
            },
            {
              "data": {"values": [{"label": "Wild-type", "rmp": -82.9, "amp": -10.0}, {"label": "Muscle (NS)", "rmp": -60.26, "amp": -7.76}, {"label": "Nerve (∗∗)", "rmp": -60.26, "amp": -10.0}]},
              "mark": {"type": "text", "align": "left", "baseline": "middle"},
              "encoding": {"x": {"field": "rmp", "type": "quantitative"}, "y": {"field": "amp", "type": "quantitative"}, "text": {"field": "label"}}
            },
            {
              "data": {"values": [{"label": "}", "rmp": -43.5, "amp": -8.88}, {"label": "{", "rmp": -41.0, "amp": -8.88}]},
              "mark": {"type": "text", "align": "center", "baseline": "middle", "fontSize": 26},
              "encoding": {"x": {"field": "rmp", "type": "quantitative"}, "y": {"field": "amp", "type": "quantitative"}, "text": {"field": "label"}}
            },
            {
              "data": {"values": [{"label": "Rescue", "rmp": -33.5, "amp": -6.94}]},
              "mark": {"type": "text", "align": "center", "baseline": "middle"},
              "encoding": {"x": {"field": "rmp", "type": "quantitative"}, "y": {"field": "amp", "type": "quantitative"}, "text": {"field": "label"}}
            },
            {
              "data": {"values": [{"label": "UAS-park;", "rmp": -33.5, "amp": -9.15}, {"label": "parkin", "rmp": -33.5, "amp": -11.02}]},
              "mark": {"type": "text", "align": "center", "baseline": "middle", "fontStyle": "italic", "fontSize": 15},
              "encoding": {"x": {"field": "rmp", "type": "quantitative"}, "y": {"field": "amp", "type": "quantitative"}, "text": {"field": "label"}}
            },
            {
              "data": {"values": [{"label": "(d)", "rmp": -60.26, "amp": -12.55}]},
              "mark": {"type": "text", "align": "center", "baseline": "middle", "fontSize": 15},
              "encoding": {"x": {"field": "rmp", "type": "quantitative"}, "y": {"field": "amp", "type": "quantitative"}, "text": {"field": "label"}}
            }
          ]
        }
      ]
    }
  ]
}
